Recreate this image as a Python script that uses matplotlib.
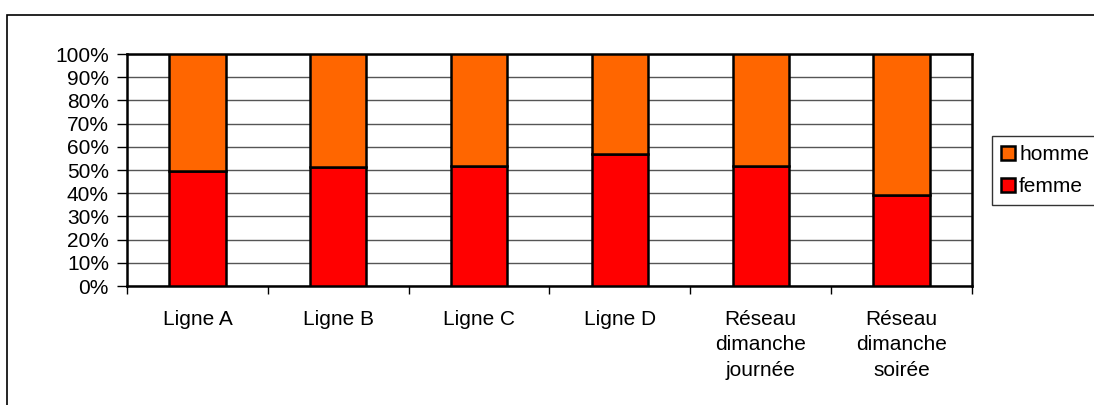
import matplotlib.pyplot as plt
from matplotlib.patches import Rectangle
from matplotlib.ticker import FixedLocator, PercentFormatter

categories = ["Ligne A", "Ligne B", "Ligne C", "Ligne D",
              "Réseau\ndimanche\njournée", "Réseau\ndimanche\nsoirée"]
femme = [49.4, 51.3, 51.9, 57.0, 51.6, 39.3]
homme = [100 - v for v in femme]

plt.rcParams["font.family"] = ["Liberation Sans", "DejaVu Sans"]

fig = plt.figure(figsize=(10.94, 4.05), dpi=100)
ax = fig.add_axes([127 / 1094, 1 - 286 / 405, 845 / 1094, 232 / 405])

x = list(range(len(categories)))
ax.bar(x, femme, width=0.4, color="#FF0000", edgecolor="black",
       linewidth=1.8, label="femme", zorder=3)
ax.bar(x, homme, width=0.4, bottom=femme, color="#FF6600",
       edgecolor="black", linewidth=1.8, label="homme", zorder=3)

ax.set_xlim(-0.5, len(categories) - 0.5)
ax.set_ylim(0, 100)
ax.set_yticks(range(0, 101, 10))
ax.yaxis.set_major_formatter(PercentFormatter(decimals=0))
ax.yaxis.grid(True, color="#555555", linewidth=1.0, zorder=0)
ax.set_axisbelow(True)

ax.set_xticks(x)
ax.set_xticklabels(categories, fontsize=15, linespacing=1.45)
ax.xaxis.set_minor_locator(FixedLocator([i - 0.5 for i in range(len(categories) + 1)]))
ax.tick_params(axis="x", which="major", length=0, pad=17)
ax.tick_params(axis="x", which="minor", length=6, width=1, direction="out")
ax.tick_params(axis="y", length=7, width=1, direction="out", pad=6, labelsize=15)

for s in ax.spines.values():
    s.set_linewidth(1.8)
    s.set_color("black")

h, l = ax.get_legend_handles_labels()
leg = ax.legend(h[::-1], l[::-1], loc="upper left",
                bbox_to_anchor=(992 / 1094, 1 - 136 / 405),
                bbox_transform=fig.transFigure, borderaxespad=0,
                fontsize=15, frameon=True, fancybox=False,
                handlelength=0.65, handleheight=0.65, handletextpad=0.2,
                labelspacing=0.6, borderpad=0.45)
leg.get_frame().set_edgecolor("black")
leg.get_frame().set_linewidth(1)

fig.patches.append(Rectangle((7 / 1094, -0.1), 1.2, 1.1 - 15 / 405,
                             transform=fig.transFigure, fill=False,
                             edgecolor="black", linewidth=1.2))

fig.savefig("out.png", dpi=100)
